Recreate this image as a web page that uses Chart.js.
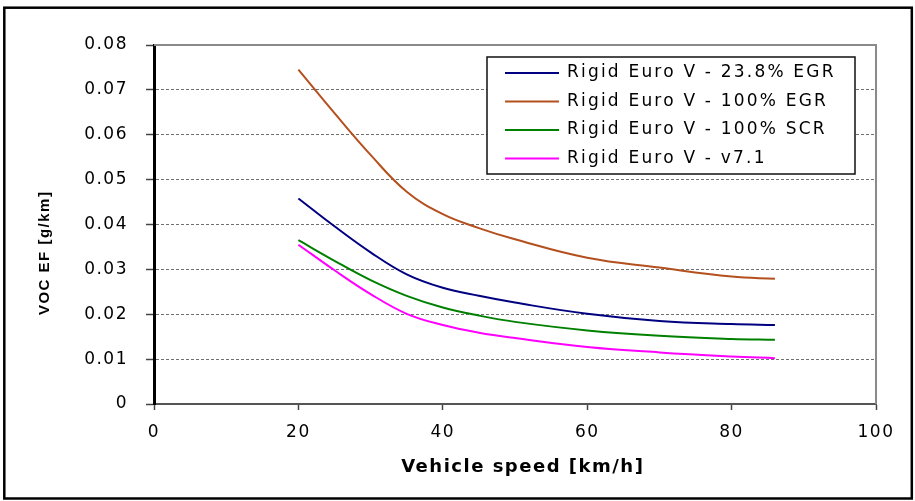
<!DOCTYPE html>
<html>
<head>
<meta charset="utf-8">
<script src="https://cdn.jsdelivr.net/npm/chart.js@4/dist/chart.umd.min.js"></script>
<style>
  html, body { margin: 0; padding: 0; background: #ffffff; }
  canvas { display: block; }
</style>
</head>
<body>
<canvas id="c" width="915" height="501"></canvas>
<script>
// ---- data ----
const speeds   = [20, 25, 30, 35, 40, 45, 50, 60, 70, 80, 86];
const egr238   = [0.0458, 0.0396, 0.0338, 0.0289, 0.0259, 0.0241, 0.0226, 0.0201, 0.0185, 0.0178, 0.0176];
const egr100   = [0.0745, 0.0648, 0.0555, 0.0473, 0.0423, 0.0392, 0.0367, 0.0326, 0.0304, 0.0284, 0.0279];
const scr100   = [0.0365, 0.0319, 0.0276, 0.0241, 0.0215, 0.0197, 0.0183, 0.0164, 0.0152, 0.0145, 0.0143];
const v71      = [0.0355, 0.0298, 0.0245, 0.0201, 0.0176, 0.0159, 0.0147, 0.0127, 0.0115, 0.0106, 0.0102];
const seriesLabels = [
  'Rigid Euro V - 23.8% EGR',
  'Rigid Euro V - 100% EGR',
  'Rigid Euro V - 100% SCR',
  'Rigid Euro V - v7.1'
];
const xTickStep = 20;
const yTickStep = 0.01;
const xTitle = 'Vehicle speed [km/h]';
const yTitle = 'VOC EF [g/km]';

// ---- styling ----
const colors = ['#000080', '#B4501E', '#008000', '#FF00FF'];
const seriesValues = [egr238, egr100, scr100, v71];

Chart.defaults.font.family = '"DejaVu Sans", sans-serif';
Chart.defaults.color = '#000';

const toPoints = vals => speeds.map((s, i) => ({ x: s, y: vals[i] }));

const framePlugin = {
  id: 'frame',
  beforeDraw(chart) {
    const ctx = chart.ctx;
    ctx.save();
    ctx.fillStyle = '#ffffff';
    ctx.fillRect(0, 0, chart.width, chart.height);
    ctx.restore();
    ctx.letterSpacing = '1.5px';
  },
  afterDraw(chart) {
    const ctx = chart.ctx;
    const a = chart.chartArea;
    ctx.letterSpacing = '0px';
    ctx.save();
    // plot area top and right edges
    ctx.strokeStyle = '#8a8a8a';
    ctx.lineWidth = 2;
    ctx.beginPath();
    ctx.moveTo(a.left, a.top);
    ctx.lineTo(a.right, a.top);
    ctx.lineTo(a.right, a.bottom);
    ctx.stroke();
    // outer frame
    ctx.strokeStyle = '#000';
    ctx.lineWidth = 2.5;
    ctx.strokeRect(4.3, 7.7, 907.5, 490.8);
    // legend
    const lx = a.right - 389, ly = a.top + 12, lw = 368, lh = 117;
    ctx.fillStyle = '#fff';
    ctx.fillRect(lx, ly, lw, lh);
    ctx.strokeStyle = '#111';
    ctx.lineWidth = 1.5;
    ctx.strokeRect(lx, ly, lw, lh);
    ctx.letterSpacing = '2.2px';
    ctx.font = '17px "DejaVu Sans"';
    ctx.textBaseline = 'middle';
    ctx.textAlign = 'left';
    chart.data.datasets.forEach((ds, i) => {
      const y = ly + 16 + i * 28.5;
      ctx.strokeStyle = ds.borderColor;
      ctx.lineWidth = 2;
      ctx.beginPath();
      ctx.moveTo(lx + 18, y);
      ctx.lineTo(lx + 72, y);
      ctx.stroke();
      ctx.fillStyle = '#000';
      ctx.fillText(ds.label, lx + 80, y);
    });
    ctx.restore();
    ctx.letterSpacing = '0px';
  }
};

new Chart(document.getElementById('c'), {
  type: 'line',
  data: {
    datasets: seriesLabels.map((lab, i) => ({
      label: lab,
      data: toPoints(seriesValues[i]),
      borderColor: colors[i],
      backgroundColor: colors[i],
      borderWidth: 2,
      pointRadius: 0,
      fill: false,
      tension: 0.4
    }))
  },
  options: {
    responsive: false,
    animation: false,
    devicePixelRatio: 1,
    layout: { padding: { left: 0, top: 45, right: 39, bottom: 0 } },
    plugins: { legend: { display: false }, tooltip: { enabled: false } },
    scales: {
      x: {
        type: 'linear',
        min: 0, max: 100,
        ticks: { stepSize: xTickStep, color: '#000', font: { size: 17 }, padding: 12, maxRotation: 0 },
        grid: { drawOnChartArea: false, drawTicks: true, tickLength: 6, tickColor: '#444', tickWidth: 1.5 },
        border: { display: true, color: '#555', width: 2 },
        title: { display: true, text: '  ' + xTitle, color: '#000',
                 font: { size: 18, weight: 'bold' }, padding: { top: 0, bottom: 23 } },
        afterFit(s) { s.height = 97; }
      },
      y: {
        type: 'linear',
        min: 0, max: 0.08,
        ticks: { stepSize: yTickStep, color: '#000', font: { size: 17 }, padding: 18,
                 callback: v => (v === 0 ? '0' : v.toFixed(2)) },
        grid: {
          color: c => (c.tick && (Math.abs(c.tick.value) < 1e-9 || Math.abs(c.tick.value - 0.08) < 1e-9)) ? 'rgba(0,0,0,0)' : '#707070',
          lineWidth: 1, drawTicks: true, tickLength: 8, tickColor: '#444', tickWidth: 1.5
        },
        border: { display: true, color: '#000', width: 3, dash: [3, 2] },
        title: { display: true, text: yTitle + '          ', color: '#000',
                 font: { family: '"Liberation Sans", Arial, sans-serif', size: 15, weight: 'bold' },
                 padding: { top: 36, bottom: 0 } },
        afterFit(s) { s.width = 154; }
      }
    }
  },
  plugins: [framePlugin]
});
</script>
</body>
</html>
